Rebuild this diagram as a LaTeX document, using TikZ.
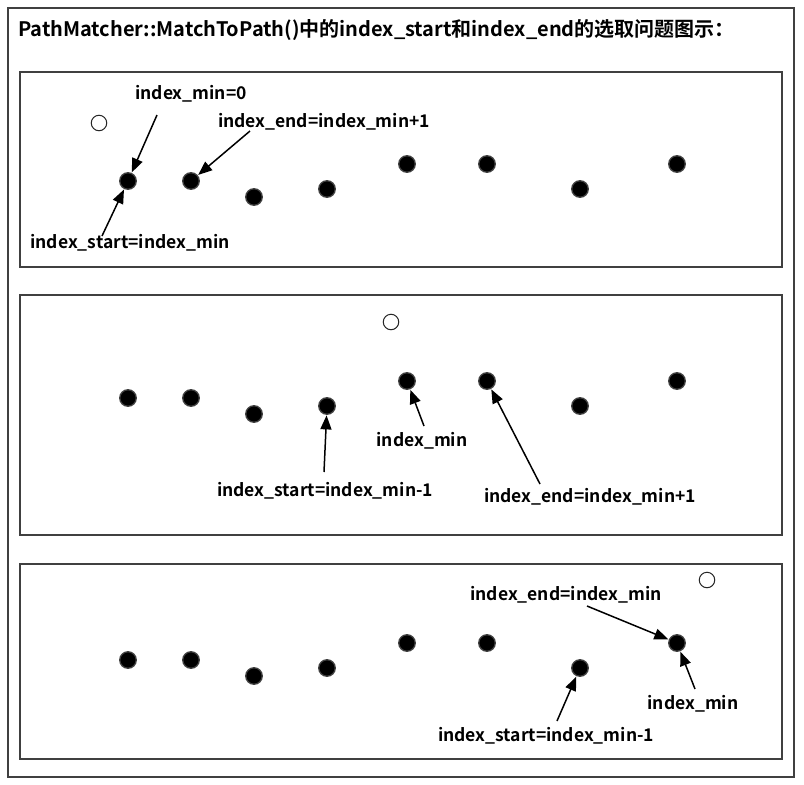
\documentclass[tikz,border=0pt]{standalone}
\usepackage{fontspec}
\setmainfont{Noto Sans CJK SC}[BoldFont={Noto Sans CJK SC Bold}]
\usetikzlibrary{arrows.meta}
\usetikzlibrary{calc}

\tikzset{
  dot/.style={circle, fill=black, draw=black!75, line width=1.3pt, inner sep=0pt, minimum size=16.5pt},
  hollow/.style={circle, draw=black!85, fill=white, line width=1pt, inner sep=0pt, minimum size=15.5pt},
  lbl/.style={font=\bfseries\fontsize{17.5}{20}\selectfont, inner sep=0pt},
  pointer/.style={line width=1.5pt, -{Triangle[length=14pt,width=11pt]}, shorten >=0.5pt},
  panel/.style={draw=black!75, line width=1.5pt},
}

\begin{document}
\begin{tikzpicture}[x=1pt, y=-1pt]
          \useasboundingbox (0,0) rectangle (804,785);
          \fill [white] (0,0) rectangle (804,785);
          \draw [panel] (8,8) rectangle (794,777);
          \node [lbl, anchor=west, font=\bfseries\fontsize{20}{24}\selectfont] (title) at (18,30)
            {PathMatcher::MatchToPath()中的index\_start和index\_end的选取问题图示：};
          \draw [panel] (20,72) rectangle (782,267);
          \draw [panel] (20,295) rectangle (782,535);
          \draw [panel] (20,564) rectangle (782,759);
          \foreach \k/\y in {a/181, b/398, c/660}{
            \foreach \i/\x/\d in {1/128/0, 2/191/0, 3/254/16, 4/327/8, 5/407/-17, 6/487/-17, 7/580/8, 8/677/-17}{
              \node [dot] (\k\i) at (\x,\y+\d) {};
            }
          }
          \node [hollow] (ha) at (99,123) {};
          \node [hollow] (hb) at (391,322) {};
          \node [hollow] (hc) at (707,580) {};
          % first panel
          \node [lbl] (amin) at (191,94) {index\_min=0};
          \node [lbl] (aend) at (324,122) {index\_end=index\_min+1};
          \node [lbl] (astart) at (130,243) {index\_start=index\_min};
          \coordinate (amin-tail) at (157,115);
          \coordinate (aend-tail) at (250,131);
          \coordinate (astart-tail) at (102,236);
          \draw [pointer] (amin-tail) -- (a1);
          \draw [pointer] (aend-tail) -- (a2);
          \draw [pointer] (astart-tail) -- (a1);
          % second panel
          \node [lbl] (bmin) at (422,441) {index\_min};
          \node [lbl] (bstart) at (325,491) {index\_start=index\_min-1};
          \node [lbl] (bend) at (590,497) {index\_end=index\_min+1};
          \coordinate (bmin-tail) at (424,426);
          \coordinate (bstart-tail) at (324,472);
          \coordinate (bend-tail) at (540,484);
          \draw [pointer] (bmin-tail) -- (b5);
          \draw [pointer] (bstart-tail) -- (b4);
          \draw [pointer] (bend-tail) -- (b6);
          % third panel
          \node [lbl] (cend) at (566,595) {index\_end=index\_min};
          \node [lbl] (cmin) at (693,704) {index\_min};
          \node [lbl] (cstart) at (546,736) {index\_start=index\_min-1};
          \coordinate (cend-tail) at (587,606);
          \coordinate (cmin-tail) at (695,689);
          \coordinate (cstart-tail) at (557,721);
          \draw [pointer] (cend-tail) -- (c8);
          \draw [pointer] (cmin-tail) -- (c8);
          \draw [pointer] (cstart-tail) -- (c7);
        \end{tikzpicture}
\end{document}
